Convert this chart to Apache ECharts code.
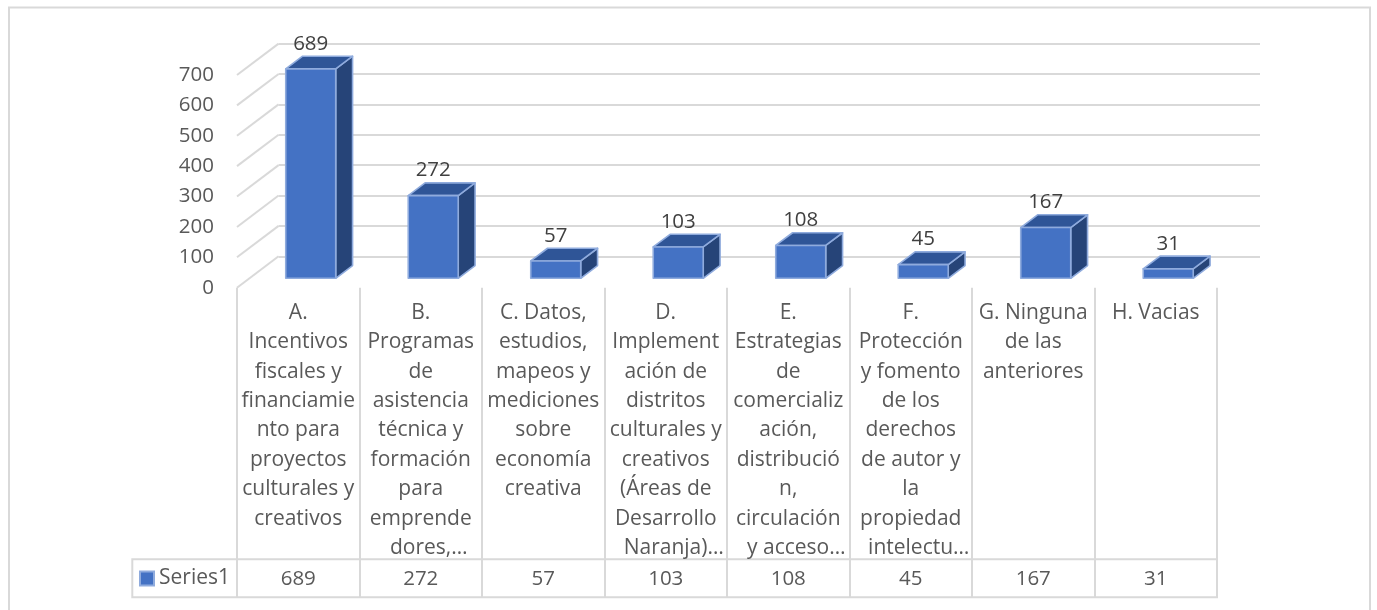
<!DOCTYPE html>
<html><head><meta charset="utf-8">
<style>html,body{margin:0;padding:0;background:#fff}#c{width:1377px;height:610px}</style>
<script src="https://cdn.jsdelivr.net/npm/echarts@6/dist/echarts.min.js"></script>
</head><body><div id="c"></div>
<script>
const categories = [
  "A.\nIncentivos\nfiscales y\nfinanciamie\nnto para\nproyectos\nculturales y\ncreativos",
  "B.\nProgramas\nde\nasistencia\ntécnica y\nformación\npara\nemprende\ndores,…",
  "C. Datos,\nestudios,\nmapeos y\nmediciones\nsobre\neconomía\ncreativa",
  "D.\nImplement\nación de\ndistritos\nculturales y\ncreativos\n(Áreas de\nDesarrollo\nNaranja)…",
  "E.\nEstrategias\nde\ncomercializ\nación,\ndistribució\nn,\ncirculación\ny acceso…",
  "F.\nProtección\ny fomento\nde los\nderechos\nde autor y\nla\npropiedad\nintelectu…",
  "G. Ninguna\nde las\nanteriores",
  "H. Vacias"
];
const seriesName = "Series1";
const values = [689, 272, 57, 103, 108, 45, 167, 31];
const yTicks = [0, 100, 200, 300, 400, 500, 600, 700];

const FONT = '"Open Sans", sans-serif';
const FS = 20.5, FS_CAT = 21, FS_LEG = 21;
const GRID = '#d9d9d9';
const DEPTH = [41.6, -31.4];   // floor depth of the 3D box, px
const BAR_W = 0.408, BAR_IN = 0.30, BAR_D = 0.405;

function renderBar(params, api) {
  const i = api.value(0), v = api.value(1);
  const band = api.size([1, 0])[0], w = band * BAR_W;
  const b = api.coord([i, 0]), t = api.coord([i, v]);
  const ox = DEPTH[0] * BAR_IN, oy = DEPTH[1] * BAR_IN;
  const dx = DEPTH[0] * BAR_D, dy = DEPTH[1] * BAR_D;
  const x0 = b[0] - w / 2 + ox, x1 = x0 + w;
  const y0 = b[1] + oy, y1 = t[1] + oy;
  const line = { stroke: '#8fabdd', lineWidth: 1.6, lineJoin: 'round' };
  const poly = (pts, fill) => ({ type: 'polygon', shape: { points: pts }, style: Object.assign({ fill }, line) });
  return { type: 'group', children: [
    poly([[x1, y0], [x1 + dx, y0 + dy], [x1 + dx, y1 + dy], [x1, y1]], '#264478'),
    poly([[x0, y1], [x1, y1], [x1 + dx, y1 + dy], [x0 + dx, y1 + dy]], '#2f5597'),
    poly([[x0, y0], [x1, y0], [x1, y1], [x0, y1]], '#4472c4'),
    { type: 'text', style: { text: String(v), x: (x0 + x1) / 2, y: y1 - 25, align: 'center', verticalAlign: 'middle',
        fill: '#404040', font: FS + 'px ' + FONT } }
  ]};
}
function renderDiagonal(params, api) {
  const p = api.coord([0, api.value(1)]);
  const x = p[0] - api.size([1, 0])[0] / 2;
  return { type: 'line', shape: { x1: x, y1: p[1], x2: x + DEPTH[0], y2: p[1] + DEPTH[1] },
    style: { stroke: GRID, lineWidth: 2, fill: null } };
}

const chart = echarts.init(document.getElementById('c'), null, { renderer: 'canvas' });
chart.setOption({
  animation: false,
  backgroundColor: '#ffffff',
  textStyle: { fontFamily: FONT },
  legend: { data: [seriesName], left: 139, top: 568, padding: 0, icon: 'rect', itemWidth: 14, itemHeight: 14,
    selectedMode: false, textStyle: { color: '#595959', fontSize: FS_LEG, fontFamily: FONT } },
  graphic: [
    { type: 'rect', z: -1, shape: { x: 9, y: 7.5, width: 1361, height: 700 }, style: { fill: 'none', stroke: GRID, lineWidth: 2 } },
    { type: 'rect', z: -1, shape: { x: 132.3, y: 559.3, width: 1084.7, height: 38 }, style: { fill: 'none', stroke: GRID, lineWidth: 2 } }
  ],
  grid: [
    { left: 237, top: 75, width: 980, height: 212.7 },
    { left: 278.6, top: 43.3, width: 981.4, height: 213.4 }
  ],
  xAxis: [
    { type: 'category', gridIndex: 0, data: categories, position: 'bottom',
      axisLine: { show: false },
      axisTick: { show: true, length: 309.6, lineStyle: { color: GRID, width: 2 } },
      axisLabel: { interval: 0, margin: 10.5, color: '#595959', fontSize: FS_CAT, fontFamily: FONT, lineHeight: 29.4,
        verticalAlign: 'top', align: 'center',
        formatter: v => v.split('\n').map(l => l.endsWith('…') ? '{e|' + l + '}' : l).join('\n'),
        rich: { e: { padding: [0, 0, 0, 16], color: '#595959', fontSize: FS_CAT, fontFamily: FONT, lineHeight: 29.4 } } } },
    { type: 'category', gridIndex: 0, data: values.map(String), position: 'bottom', offset: 277,
      axisLine: { show: false }, axisTick: { show: false },
      axisLabel: { interval: 0, margin: 0, color: '#595959', fontSize: FS, fontFamily: FONT, lineHeight: 29.4, verticalAlign: 'top' } },
    { type: 'category', gridIndex: 1, data: categories.map((c, i) => i), show: false }
  ],
  yAxis: [
    { type: 'value', gridIndex: 0, min: 0, max: 700, interval: 100,
      axisLine: { show: false }, axisTick: { show: false }, splitLine: { show: false },
      axisLabel: { margin: 23, color: '#595959', fontSize: FS, fontFamily: FONT } },
    { type: 'value', gridIndex: 1, min: 0, max: 700, interval: 100,
      axisLine: { show: false }, axisTick: { show: false }, axisLabel: { show: false },
      splitLine: { show: true, lineStyle: { color: GRID, width: 2 } } }
  ],
  series: [
    { type: 'custom', name: 'walls', xAxisIndex: 0, yAxisIndex: 0, silent: true, clip: false, z: 1,
      renderItem: renderDiagonal, data: yTicks.map(v => [0, v]), encode: { x: 0, y: 1 } },
    { type: 'custom', name: seriesName, xAxisIndex: 0, yAxisIndex: 0, clip: false, z: 3,
      itemStyle: { color: '#4472c4', borderColor: '#8fabdd', borderWidth: 1 },
      renderItem: renderBar, data: values.map((v, i) => [i, v]), encode: { x: 0, y: 1 } }
  ]
});
</script></body></html>
